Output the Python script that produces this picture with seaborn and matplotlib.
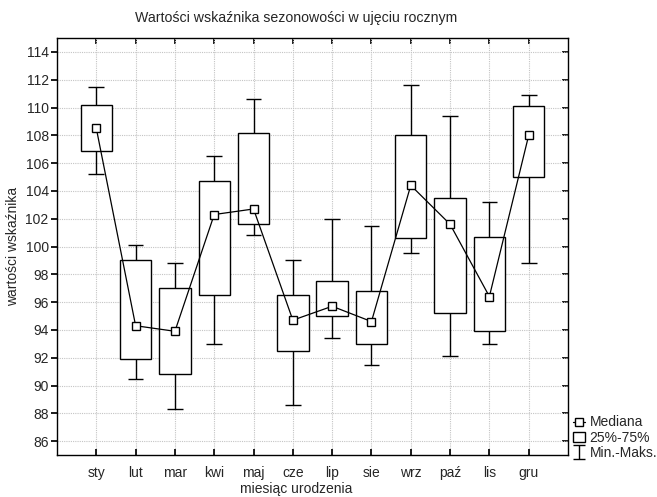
import matplotlib
matplotlib.use("Agg")
import matplotlib.pyplot as plt
import seaborn as sns
import numpy as np
import pandas as pd
from matplotlib.patches import Patch
from matplotlib.lines import Line2D

months = ["sty", "lut", "mar", "kwi", "maj", "cze", "lip", "sie", "wrz", "paź", "lis", "gru"]
mins = [105.2, 90.5, 88.3, 93.0, 100.8, 88.6, 93.4, 91.5, 99.5, 92.1, 93.0, 98.8]
q1s = [106.9, 91.9, 90.8, 96.5, 101.6, 92.5, 95.0, 93.0, 100.6, 95.2, 93.9, 105.0]
medians = [108.5, 94.3, 93.9, 102.3, 102.7, 94.7, 95.7, 94.6, 104.4, 101.6, 96.4, 108.0]
q3s = [110.2, 99.0, 97.0, 104.7, 108.2, 96.5, 97.5, 96.8, 108.0, 103.5, 100.7, 110.1]
maxs = [111.5, 100.1, 98.8, 106.5, 110.6, 99.0, 102.0, 101.5, 111.6, 109.4, 103.2, 110.9]
yticks = list(range(86, 115, 2))

sns.set_theme(style="white")
plt.rcParams["font.family"] = ["Liberation Sans", "DejaVu Sans"]

df = pd.DataFrame({"miesiac": months, "pos": np.arange(len(months)),
                   "min": mins, "q1": q1s, "med": medians, "q3": q3s, "max": maxs})

fig = plt.figure(figsize=(6.57, 4.97), dpi=100)
ax = fig.add_axes([57/657, 1-455/497, (568-57)/657, (455-38)/497])

# boxes
ax.bar(df["pos"], df["q3"] - df["q1"], bottom=df["q1"], width=0.8,
       facecolor="white", edgecolor="black", linewidth=1.0, zorder=2)
# whiskers
ax.vlines(df["pos"], df["min"], df["q1"], color="black", linewidth=1.0, zorder=2)
ax.vlines(df["pos"], df["q3"], df["max"], color="black", linewidth=1.0, zorder=2)
ax.hlines(df["min"], df["pos"] - 0.2, df["pos"] + 0.2, color="black", linewidth=1.0, zorder=2)
ax.hlines(df["max"], df["pos"] - 0.2, df["pos"] + 0.2, color="black", linewidth=1.0, zorder=2)
# medians
sns.lineplot(data=df, x="pos", y="med", ax=ax, color="black", linewidth=0.9,
             marker="s", markersize=5.5, markerfacecolor="white",
             markeredgecolor="black", markeredgewidth=1.0, zorder=3)

ax.set_xlim(-1, 12)
ax.set_ylim(85, 115)
ax.set_xticks(df["pos"])
ax.set_xticklabels(months, fontsize=10)
ax.set_yticks(yticks)
ax.set_yticklabels([str(t) for t in yticks], fontsize=10)
ax.grid(True, color="#c4c4c4", linestyle=(0, (1, 1)), linewidth=0.8, zorder=0)
ax.set_axisbelow(True)
for s in ax.spines.values():
    s.set_color("black")
    s.set_linewidth(1.0)
ax.tick_params(axis="y", direction="out", length=4, color="black", left=True, pad=2)
ax.tick_params(axis="x", direction="in", length=4, color="black", bottom=True, pad=8)

sec_y = ax.secondary_yaxis("right")
sec_y.set_yticks(yticks)
sec_y.tick_params(direction="in", length=4, labelright=False, color="black")
sec_y.spines["right"].set_visible(False)
sec_x = ax.secondary_xaxis("top")
sec_x.set_xticks(df["pos"])
sec_x.tick_params(direction="in", length=4, labeltop=False, color="black")
sec_x.spines["top"].set_visible(False)

ax.set_xlabel("miesiąc urodzenia", fontsize=10)
ax.xaxis.set_label_coords((296-57)/511, -(482-455)/417)
ax.set_ylabel("wartości wskaźnika", fontsize=10, labelpad=4)
fig.text(296/657, 1-18/497, "Wartości wskaźnika sezonowości w ujęciu rocznym",
         fontsize=10.2, ha="center", va="center")

# legend
h_med = Line2D([0], [0], color="black", linewidth=0.9, marker="s", markersize=5.5,
               markerfacecolor="white", markeredgecolor="black")
h_box = Patch(facecolor="white", edgecolor="black", linewidth=1.0)
eb = ax.errorbar([-5], [100], yerr=[1], fmt="none", ecolor="black", capsize=4, elinewidth=1.0)
fig.legend([h_med, h_box, eb], ["Mediana", "25%-75%", "Min.-Maks."],
           loc="lower left", bbox_to_anchor=(570/657, 1-463/497), frameon=False,
           fontsize=10, handlelength=0.9, handletextpad=0.3, labelspacing=0.1,
           borderpad=0.2, borderaxespad=0.0)

fig.savefig("out.png", dpi=100)
